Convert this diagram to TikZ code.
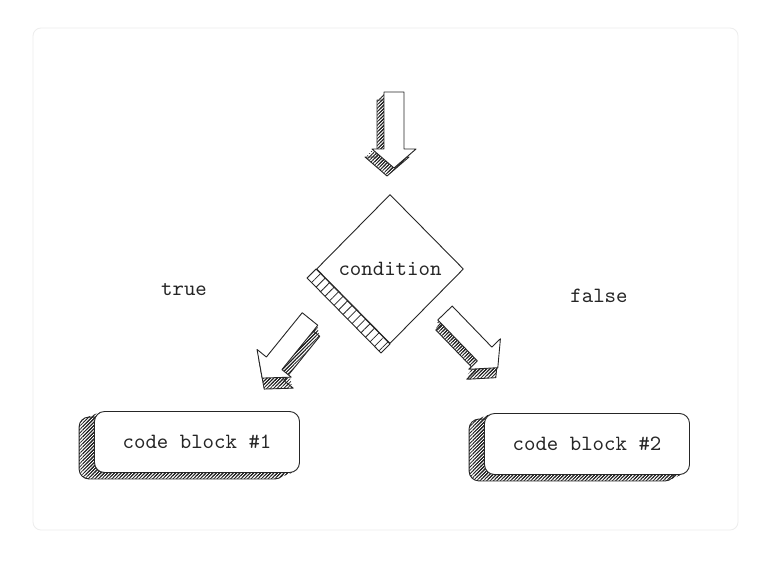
\documentclass[tikz,border=0pt]{standalone}
\usepackage{fontspec}
\usetikzlibrary{shapes.geometric,patterns.meta,backgrounds}
\tikzset{
	sketch/.style={draw=black!85, line width=0.45pt, line join=round},
	hatch/.style={pattern={Lines[angle=45,distance=1.2pt,line width=0.4pt]}, pattern color=black!85},
	ladder/.style={pattern={Lines[angle=45,distance=3.2pt,line width=0.4pt]}, pattern color=black!85},
	mono/.style={font=\fontsize{10.9}{13}\selectfont\ttfamily, text=black!85},
	codeblock/.style={sketch, mono, fill=white, rounded corners=5pt, minimum width=102.5pt, minimum height=30.5pt},
}
\newcommand\arrowshape{(0,-10) -- (57,-10) -- (57,-22) -- (76,0) -- (57,22) -- (57,10) -- (0,10) -- cycle}
\newcommand\sketcharrow[4]{%
	\foreach \t in {0.25,0.5,0.75}{\fill[hatch, shift={#1}, shift={({\t*#3},{\t*#4})}, rotate=-#2] \arrowshape;}
	\filldraw[sketch, hatch, shift={#1}, shift={(#3,#4)}, rotate=-#2] \arrowshape;
	\filldraw[sketch, fill=white, shift={#1}, rotate=-#2] \arrowshape;}
\begin{document}
\begin{tikzpicture}[x=0.5pt, y=-0.5pt]
	\useasboundingbox (0,0) rectangle (774,567);
	\node[sketch, mono, shape=diamond, fill=white, minimum width=73.5pt, minimum height=74.5pt, inner sep=0pt] (cond) at (390,269) {condition};
	\node[codeblock] (code1) at (197,442) {code block \#1};
	\node[codeblock] (code2) at (587,444) {code block \#2};
	\node[mono] (true) at (184,290) {true};
	\node[mono] (false) at (599,296) {false};
	\coordinate (in) at (394,92);
	\coordinate (toTrue) at (310,319);
	\coordinate (toFalse) at (445,313);
	% shaded side of the diamond
	\filldraw[sketch, ladder] (cond.west) -- ([shift={(-9,9)}]cond.west) -- ([shift={(-9,9)}]cond.south) -- (cond.south) -- cycle;
	% block arrows
	\sketcharrow{(in)}{90}{-7}{8}
	\sketcharrow{(toTrue)}{129}{2}{11}
	\sketcharrow{(toFalse)}{46}{-2}{10}
	\begin{pgfonlayer}{background}
		\fill[white] (0,0) rectangle (774,567);
		\draw[black!7, fill=white, rounded corners=4pt] (33,28) rectangle (738,530);
		\foreach \b in {code1,code2}{
			\foreach \t in {0.25,0.5,0.75}
				\fill[hatch, rounded corners=5pt] ([shift={({-15*\t},{6*\t})}]\b.south west) rectangle ([shift={({-15*\t},{6*\t})}]\b.north east);
			\filldraw[sketch, hatch, rounded corners=5pt] ([shift={(-15,6)}]\b.south west) rectangle ([shift={(-15,6)}]\b.north east);
		}
	\end{pgfonlayer}
\end{tikzpicture}
\end{document}
